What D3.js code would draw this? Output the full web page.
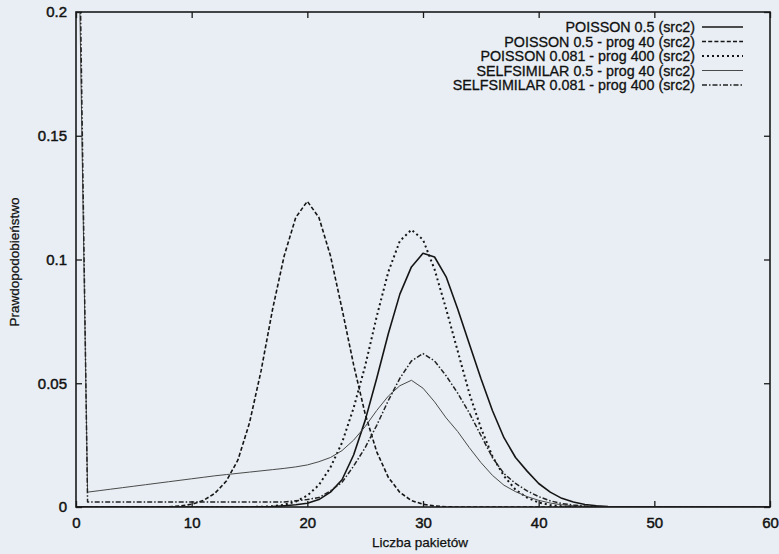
<!DOCTYPE html>
<html>
<head>
<meta charset="utf-8">
<script src="https://cdn.jsdelivr.net/npm/d3@7"></script>
<style>
  html, body { margin: 0; padding: 0; background: #e8eef3; }
  svg { display: block; }
  text { font-family: "Liberation Sans", Arial, Helvetica, sans-serif; fill: #111; }
</style>
</head>
<body>
<svg id="chart" width="779" height="554"></svg>
<script>
// ---- data (x = number of packets 0..60) ----
const xValues = [0,1,2,3,4,5,6,7,8,9,10,11,12,13,14,15,16,17,18,19,20,21,22,23,24,25,26,27,28,29,30,31,32,33,34,35,36,37,38,39,40,41,42,43,44,45,46,47,48,49,50,51,52,53,54,55,56,57,58,59,60];

const poisson05 = [0,0,0,0,0,0,0,0,0,0,0,0,0,0,0,0,0.0001,0.0002,0.0005,0.0009,0.0015,0.003,0.006,0.011,0.021,0.035,0.052,0.070,0.086,0.097,0.1025,0.101,0.093,0.080,0.066,0.052,0.039,0.028,0.020,0.0145,0.0095,0.006,0.0035,0.002,0.001,0.0005,0.0002,0.0001,0,0,0,0,0,0,0,0,0,0,0,0,0];

const poisson05prog40 = [0,0,0,0,0,0,0,0,0.0001,0.0004,0.0011,0.0026,0.0055,0.0105,0.019,0.034,0.055,0.080,0.1015,0.117,0.1235,0.117,0.1015,0.080,0.0575,0.0376,0.0223,0.012,0.0059,0.0026,0.0011,0.0004,0.0001,0,0,0,0,0,0,0,0,0,0,0,0,0,0,0,0,0,0,0,0,0,0,0,0,0,0,0,0];

const poisson0081prog400 = [0,0,0,0,0,0,0,0,0,0,0,0,0,0,0,0,0.0001,0.0003,0.0009,0.0022,0.0046,0.0089,0.016,0.026,0.040,0.057,0.077,0.095,0.1075,0.112,0.108,0.096,0.080,0.063,0.046,0.032,0.0205,0.0125,0.007,0.0038,0.0018,0.0008,0.0003,0.0001,0,0,0,0,0,0,0,0,0,0,0,0,0,0,0,0,0];

const selfsim05prog40 = [0.30,0.006,0.0066,0.0072,0.0078,0.0084,0.009,0.0096,0.0102,0.0108,0.0114,0.012,0.0126,0.0131,0.0136,0.0141,0.0146,0.0151,0.0156,0.0162,0.017,0.0183,0.020,0.0228,0.027,0.0325,0.039,0.0448,0.049,0.0512,0.048,0.0425,0.036,0.0305,0.024,0.018,0.0128,0.0088,0.0062,0.0042,0.0027,0.0016,0.0009,0.0005,0.0003,0.0001,0,0,0,0,0,0,0,0,0,0,0,0,0,0,0];

const selfsim0081prog400 = [0.33,0.002,0.002,0.002,0.002,0.002,0.002,0.002,0.002,0.002,0.002,0.002,0.002,0.002,0.002,0.002,0.002,0.002,0.002,0.0025,0.003,0.0038,0.0065,0.010,0.0165,0.024,0.033,0.043,0.052,0.059,0.062,0.059,0.053,0.046,0.038,0.029,0.020,0.0135,0.0095,0.0065,0.0042,0.0025,0.0014,0.0008,0.0004,0.0002,0,0,0,0,0,0,0,0,0,0,0,0,0,0,0];

const seriesNames = [
  "POISSON 0.5 (src2)",
  "POISSON 0.5 - prog 40 (src2)",
  "POISSON 0.081 - prog 400 (src2)",
  "SELFSIMILAR 0.5 - prog 40 (src2)",
  "SELFSIMILAR 0.081 - prog 400 (src2)"
];
const seriesValues = [poisson05, poisson05prog40, poisson0081prog400, selfsim05prog40, selfsim0081prog400];

const xTicks = [0,10,20,30,40,50,60];
const yTicks = [0,0.05,0.1,0.15,0.2];
const yTickLabels = ["0","0.05","0.1","0.15","0.2"];
const xTitle = "Liczba pakietów";
const yTitle = "Prawdopodobieństwo";

// ---- styles ----
const styles = [
  {stroke:"#151515", width:1.6, dash:null},
  {stroke:"#151515", width:1.6, dash:"4,2.2"},
  {stroke:"#151515", width:2.0, dash:"2,3"},
  {stroke:"#4a4a4a", width:1.0, dash:null},
  {stroke:"#222222", width:1.5, dash:"5,2,1.5,2"}
];

const svg = d3.select("#chart");
const margin = {left:76, right:9, top:12, bottom:47};
const W = 779, H = 554;
const x = d3.scaleLinear().domain([0,60]).range([margin.left, W - margin.right]);
const y = d3.scaleLinear().domain([0,0.2]).range([H - margin.bottom, margin.top]);

svg.append("defs").append("clipPath").attr("id","clip")
  .append("rect")
  .attr("x", x(0)).attr("y", y(0.2))
  .attr("width", x(60)-x(0)).attr("height", y(0)-y(0.2));

// axes (ticks inward, mirrored)
const tickLen = 6;
const bottomAxis = d3.axisBottom(x).tickValues(xTicks).tickSizeInner(-tickLen).tickSizeOuter(0).tickPadding(10);
const leftAxis = d3.axisLeft(y).tickValues(yTicks).tickFormat((d,i)=>yTickLabels[i]).tickSizeInner(-tickLen).tickSizeOuter(0).tickPadding(9);
const topAxis = d3.axisTop(x).tickValues(xTicks).tickSizeInner(-tickLen).tickSizeOuter(0).tickFormat("");
const rightAxis = d3.axisRight(y).tickValues(yTicks).tickSizeInner(-tickLen).tickSizeOuter(0).tickFormat("");

function styleAxis(g){
  g.select(".domain").remove();
  g.selectAll(".tick line").attr("stroke","#1a1a1a").attr("stroke-width",1.3);
  g.selectAll(".tick text").attr("font-size","15px").attr("fill","#111")
    .attr("stroke","#111").attr("stroke-width",0.45)
    .attr("font-family",'"Liberation Sans", Arial, sans-serif');
}
svg.append("g").attr("transform",`translate(0,${y(0)})`).call(bottomAxis).call(styleAxis);
svg.append("g").attr("transform",`translate(${x(0)},0)`).call(leftAxis).call(styleAxis);
svg.append("g").attr("transform",`translate(0,${y(0.2)})`).call(topAxis).call(styleAxis);
svg.append("g").attr("transform",`translate(${x(60)},0)`).call(rightAxis).call(styleAxis);

// lines
const line = d3.line().x((d,i)=>x(xValues[i])).y(d=>y(d)).curve(d3.curveLinear);
const plot = svg.append("g").attr("clip-path","url(#clip)");
seriesValues.forEach((vals,k)=>{
  plot.append("path").datum(vals)
    .attr("d", line)
    .attr("fill","none")
    .attr("stroke", styles[k].stroke)
    .attr("stroke-width", styles[k].width)
    .attr("stroke-dasharray", styles[k].dash)
    .attr("stroke-linejoin","round");
});

// frame
svg.append("rect")
  .attr("x", x(0)).attr("y", y(0.2))
  .attr("width", x(60)-x(0)).attr("height", y(0)-y(0.2))
  .attr("fill","none").attr("stroke","#1a1a1a").attr("stroke-width",1.6);

// legend
const legend = svg.append("g");
seriesNames.forEach((name,k)=>{
  const ly = 27 + k*14.5;
  legend.append("text").attr("x",695).attr("y",ly).attr("dy","0.35em")
    .attr("text-anchor","end").attr("font-size","14.3px")
    .attr("stroke","#111").attr("stroke-width",0.3).text(name);
  legend.append("line").attr("x1",702).attr("x2",743).attr("y1",ly).attr("y2",ly)
    .attr("stroke", styles[k].stroke).attr("stroke-width", styles[k].width)
    .attr("stroke-dasharray", styles[k].dash);
});

// axis titles
svg.append("text").attr("x", (x(0)+x(60))/2 - 3).attr("y", 547)
  .attr("text-anchor","middle").attr("font-size","13.5px")
  .attr("stroke","#111").attr("stroke-width",0.25).text(xTitle);
svg.append("text").attr("transform","translate(14,262) rotate(-90)")
  .attr("dy","0.35em").attr("text-anchor","middle").attr("font-size","13.5px")
  .attr("stroke","#111").attr("stroke-width",0.25).text(yTitle);
</script>
</body>
</html>
